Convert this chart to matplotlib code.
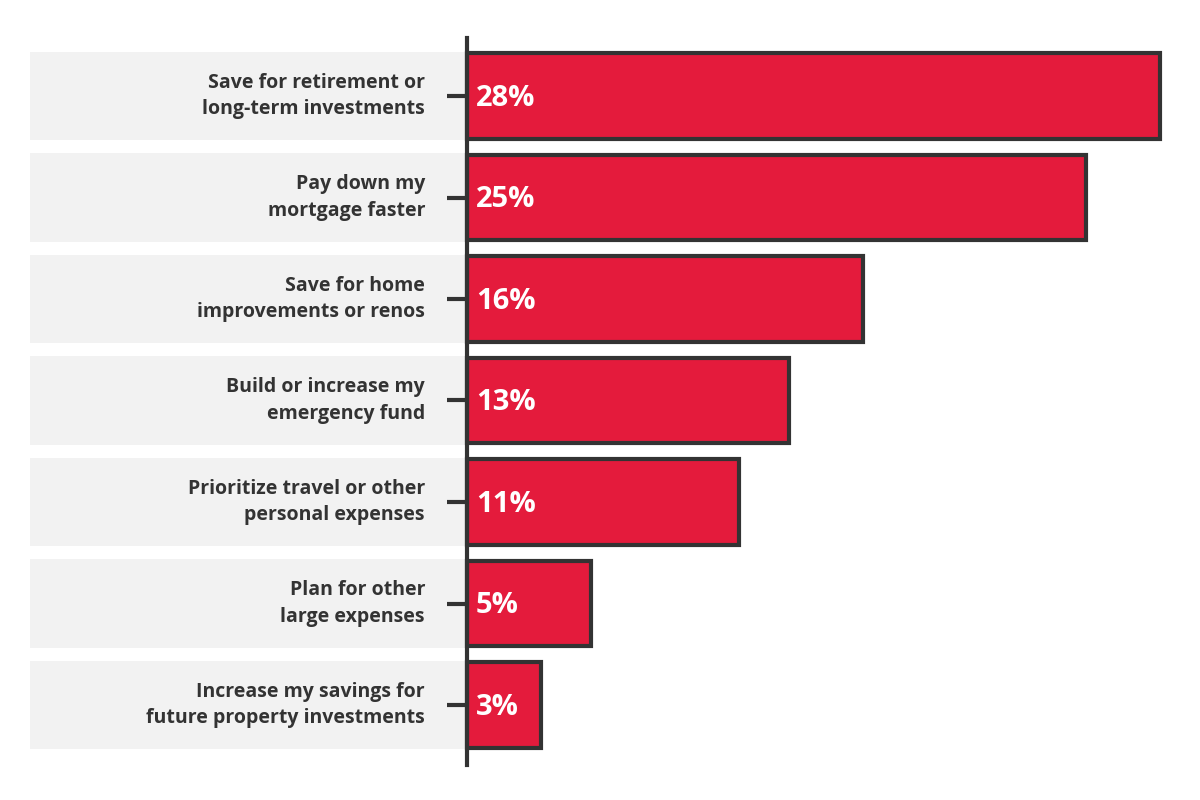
import matplotlib.pyplot as plt

labels = ["Save for retirement or\nlong-term investments",
          "Pay down my\nmortgage faster",
          "Save for home\nimprovements or renos",
          "Build or increase my\nemergency fund",
          "Prioritize travel or other\npersonal expenses",
          "Plan for other\nlarge expenses",
          "Increase my savings for\nfuture property investments"]
values = [28, 25, 16, 13, 11, 5, 3]

px = 24.75  # pixels per percent
row = 101.5
fig = plt.figure(figsize=(12, 8), dpi=100)
ax = fig.add_axes([0, 0, 1, 1])
ax.set_xlim(-467 / px, 733 / px)
ax.set_ylim((800 - 96) / row, -96 / row)
ax.axis('off')

ys = list(range(len(values)))
# grey label boxes
ax.barh(ys, [437 / px] * len(ys), left=-437 / px, height=0.87, color='#f2f2f2', zorder=1)
# bars
ax.barh(ys, values, height=0.84, color='#e41b3c', edgecolor='#333333', linewidth=3, zorder=2)

for y, lab, v in zip(ys, labels, values):
    ax.text(-42 / px, y, lab, ha='right', va='center', fontsize=14, fontweight='bold',
            color='#333333', family='Open Sans', linespacing=1.45, zorder=3)
    ax.text(9 / px, y + 0.02, f"{v}%", ha='left', va='center', fontsize=21, fontweight='bold',
            color='white', family='Open Sans', zorder=3)
    ax.plot([-20 / px, 0], [y, y], color='#333333', lw=3, solid_capstyle='butt', zorder=3)

ax.plot([0, 0], [(38 - 96) / row, (765 - 96) / row], color='#333333', lw=3, zorder=4)

fig.savefig('out.png', dpi=100)
